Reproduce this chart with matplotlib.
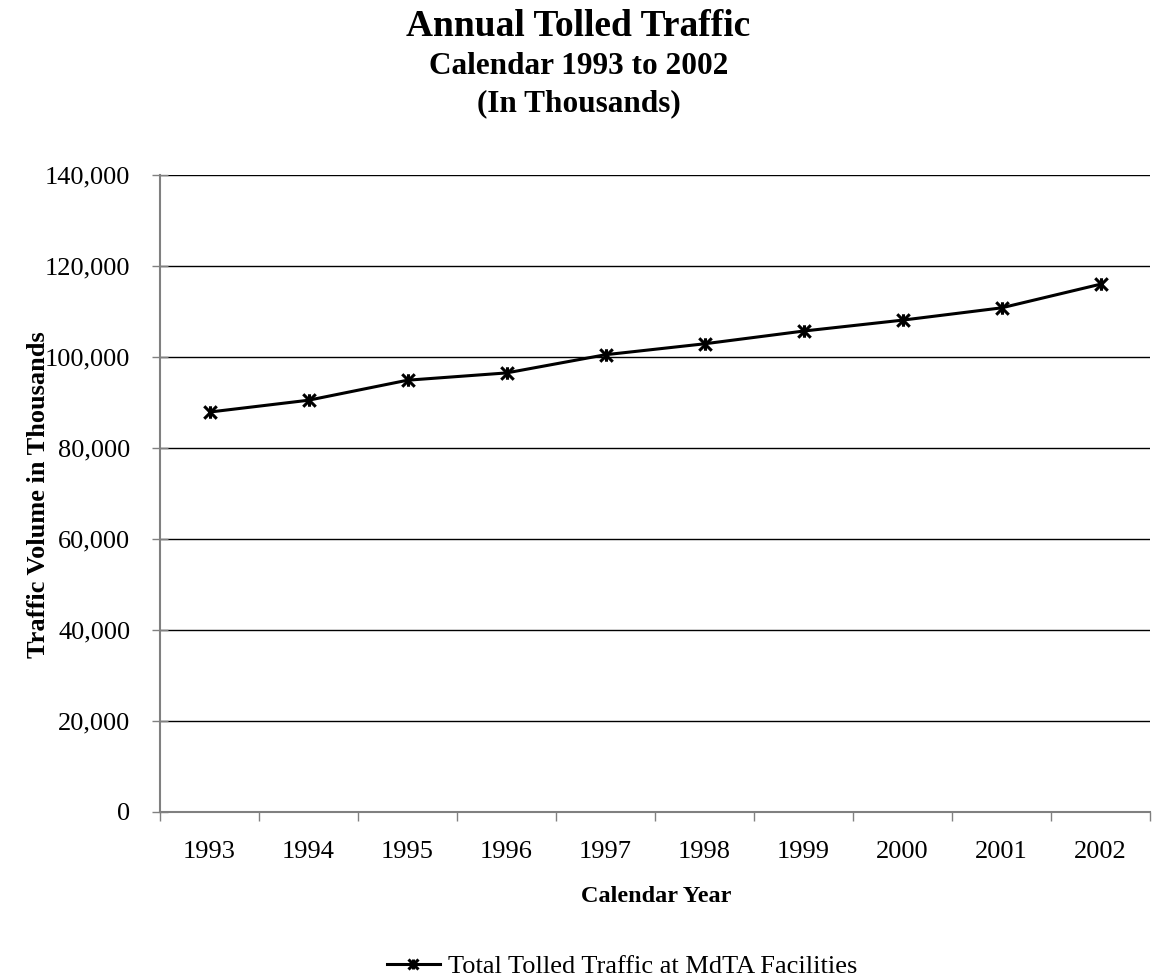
import numpy as np
import matplotlib
matplotlib.use('Agg')
import matplotlib.pyplot as plt
from matplotlib.ticker import FuncFormatter
from matplotlib.path import Path

# data (thousands)
years = ['1993', '1994', '1995', '1996', '1997', '1998', '1999', '2000', '2001', '2002']
traffic = [87900, 90500, 94900, 96500, 100500, 102900, 105700, 108100, 110800, 116000]
series_name = 'Total Tolled Traffic at MdTA Facilities'

plt.rcParams['font.family'] = ['Liberation Serif', 'DejaVu Serif']

# excel style star marker: an X with a vertical bar through it
star = Path([(-1, -1), (1, 1), (-1, 1), (1, -1), (0, -1), (0, 1)],
            [Path.MOVETO, Path.LINETO, Path.MOVETO, Path.LINETO, Path.MOVETO, Path.LINETO])

W, H = 1157, 977
fig = plt.figure(figsize=(W / 100, H / 100), dpi=100)
ax = fig.add_axes([160 / W, 1 - 812 / H, 990 / W, 637 / H])

x = np.arange(len(years))
line, = ax.plot(x, traffic, color='black', linewidth=2.2, marker=star,
                markersize=9, markeredgewidth=2.2, label=series_name)

ax.set_xlim(-0.5, len(years) - 0.5)
ax.set_ylim(0, 140000)
ax.set_yticks(np.arange(0, 140001, 20000))
ax.yaxis.set_major_formatter(FuncFormatter(lambda v, p: f'{int(v):,}'))
# ticks sit between categories, labels in the middle
ax.set_xticks(np.arange(-0.5, len(years), 1.0))
ax.set_xticklabels([])
ax.set_xticks(x, minor=True)
ax.set_xticklabels(years, minor=True)
ax.tick_params(axis='x', which='major', length=6.5, width=1, color='#808080', direction='out')
ax.tick_params(axis='x', which='minor', length=0, labelsize=19, pad=21)
ax.tick_params(axis='y', length=11, width=1, color='#808080', labelsize=19, pad=16,
               direction='inout')

ax.grid(axis='y', color='black', linewidth=1)
ax.set_axisbelow(True)
for s in ['top', 'right']:
    ax.spines[s].set_visible(False)
ax.spines['left'].set_color('#808080')
ax.spines['left'].set_linewidth(1.5)
ax.spines['bottom'].set_color('#808080')
ax.spines['bottom'].set_linewidth(1.5)

fig.text(656 / W, 1 - 897 / H, 'Calendar Year', ha='center', va='center',
         fontsize=17.5, fontweight='bold')
fig.text(39 / W, 1 - 495 / H, 'Traffic Volume in Thousands', ha='center', va='center',
         rotation=90, fontsize=19, fontweight='bold')

fig.text(0.5, 1 - 27 / H, 'Annual Tolled Traffic', ha='center', va='center',
         fontsize=27, fontweight='bold')
fig.text(0.5, 1 - 67 / H, 'Calendar 1993 to 2002', ha='center', va='center',
         fontsize=22.5, fontweight='bold')
fig.text(0.5, 1 - 104 / H, '(In Thousands)', ha='center', va='center',
         fontsize=22.5, fontweight='bold')

fig.legend(handles=[line], loc='center', bbox_to_anchor=(622 / W, 1 - 966 / H),
           frameon=False, fontsize=19, handlelength=2.0, handletextpad=0.3,
           borderpad=0, markerscale=0.8)

fig.savefig('out.png', dpi=100)
